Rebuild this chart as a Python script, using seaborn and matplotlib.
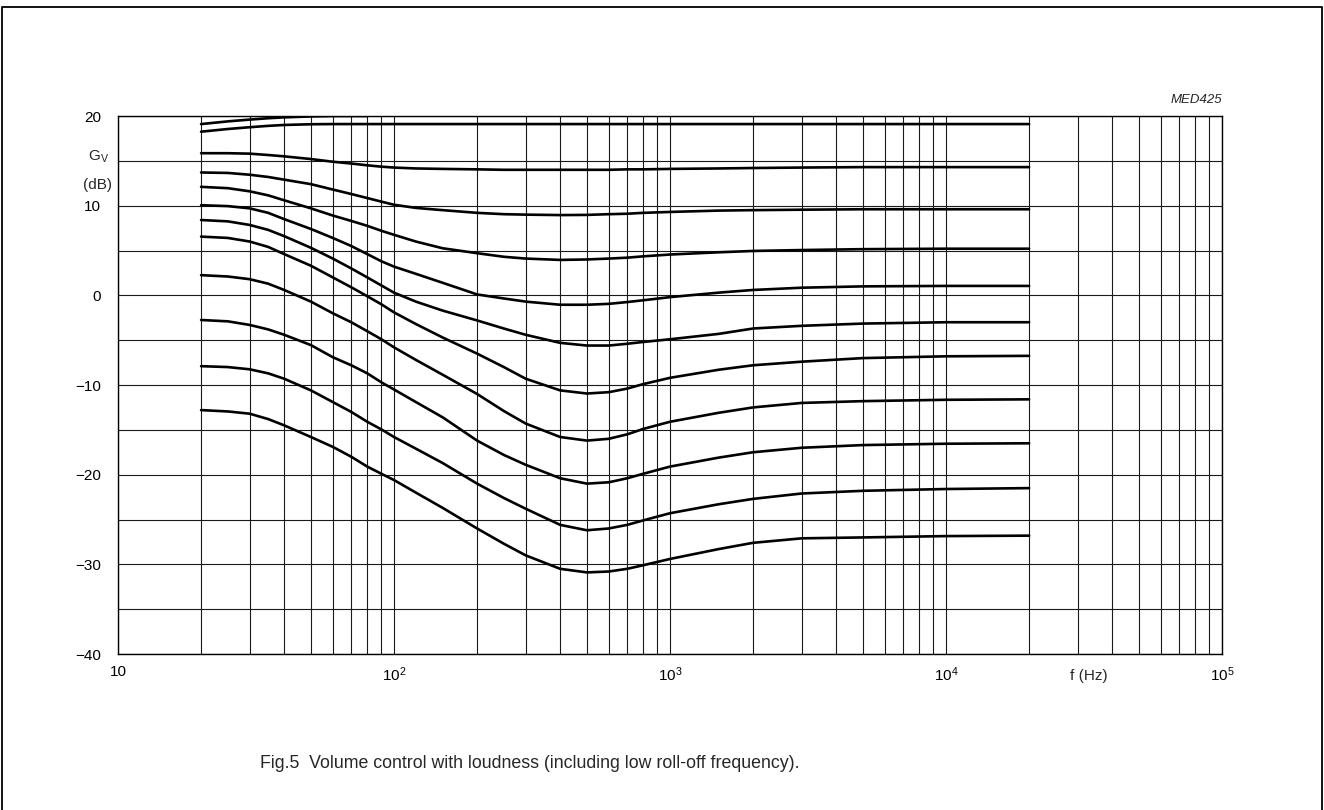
import numpy as np
import pandas as pd
import seaborn as sns
import matplotlib.pyplot as plt
from matplotlib.lines import Line2D
from matplotlib.ticker import LogLocator, MultipleLocator, NullFormatter, FixedLocator

# frequency points (Hz)
freq = [20, 25, 30, 35, 40, 50, 60, 70, 80, 90, 100, 120, 150, 200, 250, 300, 400,
        500, 600, 700, 800, 1000, 1500, 2000, 3000, 5000, 10000, 20000]

# top curve is clipped at +20 dB, only drawn up to 80 Hz
freq_top = [20, 25, 30, 35, 40, 50, 60, 70, 80]
gv_top = [19.1, 19.4, 19.6, 19.75, 19.85, 19.95, 20.0, 20.0, 20.0]

gv_b = [18.25, 18.55, 18.75, 18.9, 19.0, 19.08, 19.1, 19.1, 19.1, 19.1, 19.1, 19.1, 19.1, 19.1,
        19.1, 19.1, 19.1, 19.1, 19.1, 19.1, 19.1, 19.1, 19.1, 19.1, 19.1, 19.1, 19.1, 19.1]
gv_c = [15.85, 15.85, 15.8, 15.65, 15.5, 15.2, 14.9, 14.7, 14.5, 14.35, 14.25, 14.15, 14.1, 14.05,
        14.0, 14.0, 14.0, 14.0, 14.0, 14.05, 14.05, 14.1, 14.15, 14.2, 14.25, 14.3, 14.3, 14.3]
gv_d = [13.7, 13.65, 13.45, 13.2, 12.9, 12.4, 11.8, 11.3, 10.85, 10.45, 10.1, 9.75, 9.5, 9.2,
        9.05, 9.0, 8.95, 8.97, 9.05, 9.1, 9.2, 9.3, 9.45, 9.5, 9.55, 9.6, 9.6, 9.6]
gv_e = [12.1, 11.95, 11.6, 11.15, 10.6, 9.7, 8.9, 8.3, 7.75, 7.2, 6.75, 6.0, 5.25, 4.7,
        4.3, 4.1, 3.95, 4.0, 4.1, 4.2, 4.35, 4.55, 4.8, 4.95, 5.05, 5.15, 5.2, 5.2]
gv_f = [10.05, 9.95, 9.7, 9.2, 8.5, 7.4, 6.4, 5.5, 4.6, 3.8, 3.2, 2.4, 1.4, 0.1,
        -0.35, -0.7, -1.05, -1.05, -0.95, -0.75, -0.55, -0.2, 0.3, 0.6, 0.85, 1.0, 1.05, 1.05]
gv_g = [8.4, 8.25, 7.85, 7.3, 6.6, 5.3, 4.1, 3.0, 2.0, 1.1, 0.3, -0.7, -1.7, -2.8,
        -3.7, -4.4, -5.3, -5.6, -5.6, -5.4, -5.2, -4.9, -4.3, -3.7, -3.4, -3.15, -3.0, -3.0]
gv_h = [6.55, 6.4, 6.0, 5.4, 4.6, 3.3, 2.0, 0.9, -0.1, -1.0, -1.9, -3.2, -4.7, -6.5,
        -8.0, -9.3, -10.6, -10.95, -10.8, -10.4, -9.9, -9.2, -8.3, -7.8, -7.4, -7.0, -6.8, -6.75]
gv_i = [2.25, 2.1, 1.8, 1.3, 0.6, -0.7, -2.0, -3.0, -4.0, -4.9, -5.8, -7.2, -8.85, -11.0,
        -12.9, -14.3, -15.8, -16.2, -16.0, -15.5, -14.9, -14.1, -13.1, -12.5, -12.0, -11.8, -11.65, -11.6]
gv_j = [-2.75, -2.9, -3.3, -3.8, -4.4, -5.55, -6.9, -7.8, -8.7, -9.7, -10.5, -11.9, -13.6, -16.2,
        -17.8, -18.9, -20.4, -21.0, -20.85, -20.4, -19.9, -19.1, -18.1, -17.5, -17.0, -16.7, -16.55, -16.5]
gv_k = [-7.9, -8.0, -8.25, -8.7, -9.3, -10.6, -11.9, -13.0, -14.1, -14.95, -15.8, -17.1, -18.7, -21.0,
        -22.6, -23.8, -25.6, -26.2, -26.0, -25.6, -25.1, -24.3, -23.3, -22.7, -22.1, -21.8, -21.6, -21.5]
gv_l = [-12.8, -12.95, -13.2, -13.8, -14.5, -15.8, -16.9, -18.0, -19.1, -19.9, -20.6, -22.0, -23.7, -26.0,
        -27.7, -29.0, -30.5, -30.9, -30.8, -30.5, -30.1, -29.4, -28.3, -27.6, -27.1, -27.0, -26.85, -26.8]

y_ticks = [-40, -30, -20, -10, 0, 10, 20]
y_labels = ['\u221240', '\u221230', '\u221220', '\u221210', '0', '10', '20']
x_ticks = [10, 100, 1000, 10000, 100000]
x_labels = ['10', r'$\mathregular{10^2}$', r'$\mathregular{10^3}$',
            r'$\mathregular{10^4}$', r'$\mathregular{10^5}$']

rows = []
for f, g in zip(freq_top, gv_top):
    rows.append(('a', f, g))
for name, vals in [('b', gv_b), ('c', gv_c), ('d', gv_d), ('e', gv_e), ('f', gv_f),
                   ('g', gv_g), ('h', gv_h), ('i', gv_i), ('j', gv_j), ('k', gv_k),
                   ('l', gv_l)]:
    for f, g in zip(freq, vals):
        rows.append((name, f, g))
df = pd.DataFrame(rows, columns=['curve', 'f', 'gv'])

sns.set_style('white')
plt.rcParams['font.family'] = ['Liberation Sans', 'DejaVu Sans']

fig = plt.figure(figsize=(13.24, 8.10), dpi=100)
ax = fig.add_axes([118 / 1324, 1 - 654 / 810, (1222 - 118) / 1324, (654 - 116) / 810])

sns.lineplot(data=df, x='f', y='gv', hue='curve', palette=['black'] * 12,
             estimator=None, sort=False, legend=False, linewidth=1.9, ax=ax)

ax.set_xscale('log')
ax.set_xlim(10, 1e5)
ax.set_ylim(-40, 20)
ax.xaxis.set_major_locator(FixedLocator(x_ticks))
ax.set_xticklabels(x_labels)
ax.xaxis.set_minor_locator(LogLocator(base=10, subs=range(2, 10), numticks=20))
ax.xaxis.set_minor_formatter(NullFormatter())
ax.set_yticks(y_ticks)
ax.set_yticklabels(y_labels)
ax.yaxis.set_minor_locator(MultipleLocator(5))
ax.grid(which='both', color='#1a1a1a', linewidth=0.8)
ax.tick_params(which='both', length=0, labelsize=11, colors='black')
ax.tick_params(axis='y', pad=12)
ax.tick_params(axis='x', pad=8)
for s in ax.spines.values():
    s.set_color('black')
    s.set_linewidth(1.0)
ax.set_xlabel('')
ax.set_ylabel('')

ax.text(3.3e4, -0.028, 'f (Hz)', transform=ax.get_xaxis_transform(),
        ha='center', va='top', fontsize=11)
fig.text(88 / 1324, 1 - 157 / 810, r'$\mathregular{G_V}$', ha='left', va='center', fontsize=11)
fig.text(97 / 1324, 1 - 185 / 810, '(dB)', ha='center', va='center', fontsize=11)
fig.text(1222 / 1324, 1 - 100 / 810, 'MED425', ha='right', va='center',
         fontsize=9.5, style='italic')
fig.text(530 / 1324, 1 - 763 / 810,
         'Fig.5  Volume control with loudness (including low roll-off frequency).',
         ha='center', va='center', fontsize=12.8)

# page frame
x0, x1 = 2 / 1324, 1322 / 1324
y0, y1 = -0.02, 1 - 7 / 810
fig.add_artist(Line2D([x0, x0, x1, x1], [y0, y1, y1, y0], transform=fig.transFigure,
                      color='black', linewidth=1.3))

fig.savefig('out.png', dpi=100)
